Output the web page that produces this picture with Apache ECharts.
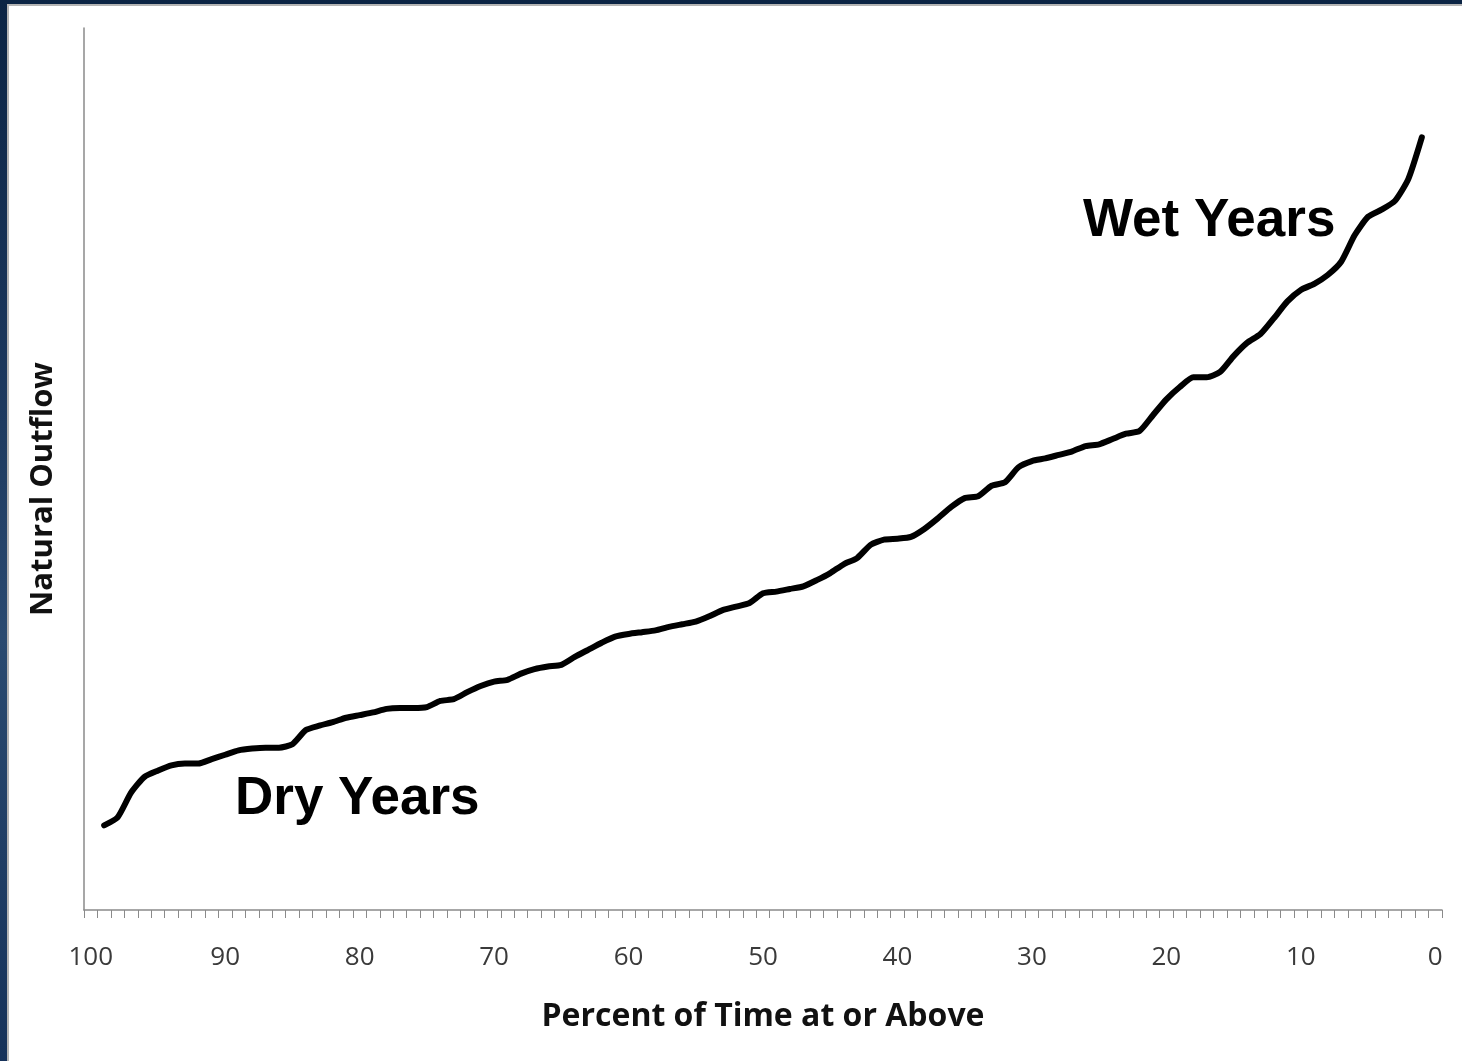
<!DOCTYPE html>
<html>
<head>
<meta charset="utf-8">
<script src="https://cdn.jsdelivr.net/npm/echarts@6/dist/echarts.min.js"></script>
<style>
  html, body { margin: 0; padding: 0; width: 1462px; height: 1061px; overflow: hidden; }
  body { background: linear-gradient(180deg, #0b2444 0%, #1e3a60 40%, #2a4a70 60%, #16325a 100%); position: relative; }
  #frame { position: absolute; left: 7px; top: 4px; right: 0; bottom: 0; background: #ffffff; border-left: 2px solid #b4b4b4; border-top: 2px solid #b4b4b4; }
  #chart { position: absolute; left: 0; top: 0; width: 1462px; height: 1061px; }
</style>
</head>
<body>
<div id="frame"></div>
<div id="chart"></div>
<script>
// Category labels: percent of time at or above, from 100 down to 0
const categories = [];
for (let c = 100; c >= 0; c--) categories.push(String(c));

// Natural outflow (relative units, axis unlabeled), for 99% ... 1%
const outflow = [
  9.6, 10.5, 13.3, 15.1, 15.8, 16.4, 16.6, 16.6, 17.1, 17.6,
  18.1, 18.3, 18.4, 18.4, 18.8, 20.4, 20.9, 21.3, 21.8, 22.1,
  22.4, 22.8, 22.9, 22.9, 23.0, 23.7, 23.9, 24.7, 25.4, 25.9,
  26.1, 26.8, 27.3, 27.6, 27.8, 28.7, 29.5, 30.3, 31.0, 31.3,
  31.5, 31.7, 32.1, 32.4, 32.7, 33.3, 34.0, 34.4, 34.8, 35.9,
  36.1, 36.4, 36.7, 37.4, 38.2, 39.2, 39.9, 41.4, 42.0, 42.1,
  42.3, 43.2, 44.4, 45.7, 46.7, 46.9, 48.1, 48.5, 50.2, 50.9,
  51.2, 51.6, 52.0, 52.6, 52.8, 53.4, 54.0, 54.3, 56.1, 57.9,
  59.3, 60.4, 60.4, 61.0, 62.8, 64.3, 65.3, 67.1, 69.0, 70.3,
  71.0, 72.0, 73.5, 76.5, 78.6, 79.4, 80.4, 82.9, 87.6
];

// Series aligned to categories: no value at 100 and 0
const seriesData = [null].concat(outflow).concat([null]);

const xTitle = 'Percent of Time at or Above';
const yTitle = 'Natural Outflow';
const dryLabel = 'Dry Years';
const wetLabel = 'Wet Years';

const chart = echarts.init(document.getElementById('chart'), null, { renderer: 'canvas' });
chart.setOption({
  backgroundColor: 'transparent',
  animation: false,
  grid: { left: 84, top: 28, right: 20, bottom: 151, containLabel: false },
  xAxis: {
    type: 'category',
    data: categories,
    boundaryGap: true,
    axisLine: { show: true, lineStyle: { color: '#8a8a8a', width: 1.5 } },
    axisTick: { show: true, interval: 0, length: 8, lineStyle: { color: '#8a8a8a', width: 1 } },
    axisLabel: { interval: 9, margin: 35, color: '#3a3a3a', fontSize: 26, fontFamily: 'Open Sans' },
    splitLine: { show: false },
    name: xTitle,
    nameLocation: 'middle',
    nameGap: 91,
    nameTextStyle: { color: '#111111', fontSize: 32, fontWeight: 'bold', fontFamily: 'Open Sans' }
  },
  yAxis: {
    type: 'value',
    min: 0,
    max: 100,
    axisLine: { show: true, lineStyle: { color: '#8a8a8a', width: 1.5 } },
    axisTick: { show: false },
    axisLabel: { show: false },
    splitLine: { show: false }
  },
  series: [{
    type: 'line',
    data: seriesData,
    showSymbol: false,
    smooth: 0.2,
    connectNulls: false,
    lineStyle: { color: '#000000', width: 6, cap: 'round', join: 'round' }
  }],
  graphic: [
    {
      type: 'text',
      x: 43, y: 489,
      rotation: Math.PI / 2,
      style: { text: yTitle, fill: '#111111', font: 'bold 31px "Open Sans"', textAlign: 'center', textVerticalAlign: 'middle' }
    },
    {
      type: 'text',
      x: 235, y: 799,
      style: { text: dryLabel, fill: '#000000', font: 'bold 53px "Liberation Sans", Arial', textAlign: 'left', textVerticalAlign: 'middle' }
    },
    {
      type: 'text',
      x: 1083, y: 221,
      style: { text: wetLabel, fill: '#000000', font: 'bold 53px "Liberation Sans", Arial', textAlign: 'left', textVerticalAlign: 'middle' }
    }
  ]
});
</script>
</body>
</html>
